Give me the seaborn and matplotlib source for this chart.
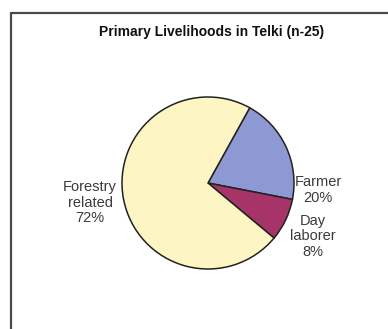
import matplotlib
matplotlib.use("Agg")
import matplotlib.pyplot as plt
from matplotlib.lines import Line2D
import seaborn as sns

# data
livelihoods = ["Farmer", "Day\nlaborer", "Forestry\nrelated"]
shares = [20, 8, 72]
colors = ["#8e99d4", "#a63468", "#fdf5c3"]

# where Excel put each label (pie units, radius = 1)
label_pos = [(1.28, -0.08), (1.22, -0.62), (-1.37, -0.23)]

sns.set_theme(style="white")
plt.rcParams["font.family"] = ["Liberation Sans", "DejaVu Sans"]

W, H = 388, 329
fig = plt.figure(figsize=(W / 100, H / 100), dpi=100)
ax = fig.add_axes([0, 0, 1, 1])

wedges, _ = ax.pie(
    shares,
    colors=colors,
    startangle=61,
    counterclock=False,
    wedgeprops=dict(edgecolor="#222222", linewidth=1.1),
)

for name, share, (x, y) in zip(livelihoods, shares, label_pos):
    ax.text(x, y, f"{name}\n{share}%", ha="center", va="center",
            fontsize=10.5, color="#3a3a3a", linespacing=1.15)

# centre the pie at (208, 183) px with radius 86 px
cx, cy, r = 208, 183, 86
ax.set_xlim(-cx / r, (W - cx) / r)
ax.set_ylim(-(H - cy) / r, cy / r)
ax.set_aspect("equal")
ax.axis("off")

fig.text(212 / W, 1 - 32 / H, "Primary Livelihoods in Telki (n-25)",
         ha="center", va="center", fontsize=10, fontweight="bold", color="#111111")

# chart-area frame, cut off on the right and bottom
fx, fy = 10.5 / W, 1 - 12.5 / H
fig.add_artist(Line2D([fx, fx], [0, fy], transform=fig.transFigure,
                      color="#4a4a4a", linewidth=1.6))
fig.add_artist(Line2D([fx, 1], [fy, fy], transform=fig.transFigure,
                      color="#4a4a4a", linewidth=1.6))

fig.savefig("out.png", dpi=100)
